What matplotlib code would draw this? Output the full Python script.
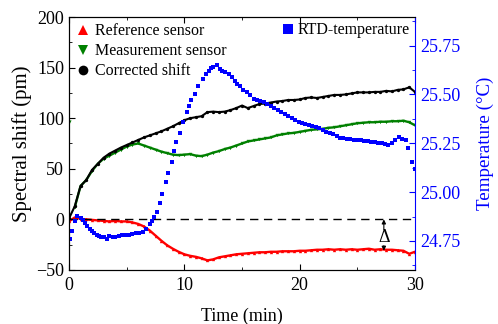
import numpy as np
import matplotlib.pyplot as plt
from matplotlib.ticker import MultipleLocator
from matplotlib.lines import Line2D

plt.rcParams['font.family'] = 'Liberation Serif'

# shared time axis (min) for the three sensor series
time_min = np.linspace(0, 30, 61)

reference_pm = [-2, 2, 0.5, 0, -0.5, -1, -1.5, -2, -1.5, -2,
                -2, -3, -4.5, -7, -11, -16, -21, -25.5, -29, -32,
                -34.5, -36, -37, -38.5, -40.5, -39.5, -37.5, -36.5, -35.5, -34.5,
                -34, -33.5, -33, -32.5, -32.5, -32, -32, -31.5, -31.5, -31.5,
                -31, -31, -30.5, -30, -30, -29.5, -30, -29.5, -30, -29.5,
                -30, -29.5, -29, -30, -29.5, -30, -30, -30.5, -31, -34,
                -32]

measurement_pm = [96, 12, 33, 39, 48, 55, 60, 63, 66, 69,
                  72, 74, 75, 73, 71, 69, 67, 65.5, 64, 63.5,
                  64, 64.5, 63, 62.5, 64, 66, 67.5, 69.5, 71, 73,
                  75, 77, 78, 79, 80, 81, 83, 84, 85, 85.5,
                  86.5, 87.5, 88.5, 89, 89.5, 90.5, 91, 92, 93, 94,
                  95, 95.5, 96, 96, 96.5, 96.5, 97, 97, 97.5, 96,
                  93]

corrected_pm = [1, 13, 33, 39, 49, 55, 61, 65, 68, 71,
                73.5, 76, 78.5, 81, 83, 85, 87, 89.5, 92, 95,
                98, 100, 101, 102, 106, 106.5, 106, 106.5, 108, 110,
                112.5, 110, 112, 114, 114.5, 115.5, 116.5, 117, 118, 118,
                118.5, 120, 120.5, 120, 121, 122, 123, 123, 123.5, 124.5,
                125.5, 125.5, 125.5, 126, 126, 127, 126.5, 128, 128.5, 130.5,
                126]

rtd_time = [0.1, 0.3, 0.5, 0.7, 1.0, 1.2, 1.4, 1.6, 1.8, 2.0,
            2.2, 2.4, 2.6, 2.8, 3.0, 3.3, 3.5, 3.8, 4.0, 4.3,
            4.6, 4.9, 5.2, 5.5, 5.8, 6.1, 6.4, 6.7, 7.0, 7.2,
            7.4, 7.6, 7.9, 8.1, 8.4, 8.6, 8.9, 9.1, 9.3, 9.6,
            9.9, 10.2, 10.4, 10.6, 10.9, 11.2, 11.6, 11.9, 12.1, 12.3,
            12.5, 12.8, 13.1, 13.3, 13.5, 13.9, 14.1, 14.4, 14.6, 14.8,
            15.1, 15.4, 15.7, 16.0, 16.3, 16.6, 16.9, 17.2, 17.5, 17.8,
            18.1, 18.4, 18.7, 19.0, 19.3, 19.6, 19.9, 20.2, 20.5, 20.8,
            21.1, 21.4, 21.7, 22.0, 22.3, 22.6, 22.9, 23.2, 23.5, 23.8,
            24.1, 24.4, 24.7, 25.0, 25.3, 25.6, 25.9, 26.2, 26.5, 26.8,
            27.1, 27.4, 27.7, 28.0, 28.3, 28.6, 28.9, 29.2, 29.4, 29.7,
            30.0]
rtd_temp = [24.758, 24.80, 24.85, 24.878, 24.87, 24.855, 24.84, 24.825, 24.81, 24.80,
            24.79, 24.78, 24.775, 24.772, 24.768, 24.758, 24.775, 24.768, 24.77, 24.778,
            24.78, 24.78, 24.782, 24.788, 24.79, 24.79, 24.795, 24.81, 24.835, 24.85,
            24.875, 24.90, 24.942, 24.99, 25.05, 25.10, 25.155, 25.21, 25.255, 25.305,
            25.36, 25.41, 25.44, 25.47, 25.50, 25.545, 25.58, 25.605, 25.62, 25.635,
            25.642, 25.648, 25.63, 25.62, 25.614, 25.605, 25.59, 25.57, 25.555, 25.545,
            25.525, 25.51, 25.495, 25.478, 25.47, 25.465, 25.46, 25.45, 25.44, 25.43,
            25.42, 25.41, 25.40, 25.39, 25.38, 25.37, 25.36, 25.355, 25.35, 25.345,
            25.34, 25.335, 25.33, 25.32, 25.31, 25.30, 25.295, 25.285, 25.278, 25.275,
            25.272, 25.27, 25.268, 25.265, 25.265, 25.262, 25.26, 25.258, 25.256, 25.252,
            25.25, 25.245, 25.24, 25.252, 25.265, 25.283, 25.27, 25.265, 25.228, 25.155,
            25.12]

fig = plt.figure(figsize=(4.98, 3.24), dpi=100)
ax = fig.add_axes([0.1386, 0.1667, 0.6947, 0.7808])
ax2 = ax.twinx()

ax.plot(time_min, reference_pm, color='red', lw=1.7, marker='^', ms=2.4, mew=0)
ax.plot(time_min[1:], measurement_pm[1:], color='green', lw=1.7, marker='v', ms=2.4, mew=0)
ax.plot(time_min[:1], measurement_pm[:1], color='green', ls='none', marker='v', ms=3, mew=0)
ax.plot(time_min, corrected_pm, color='black', lw=1.5, marker='o', ms=2.4, mew=0)
ax2.plot(rtd_time, rtd_temp, color='blue', ls='none', marker='s', ms=3.0, mew=0)

ax.axhline(0, color='black', lw=1, ls=(0, (6, 4)))

# delta marker between zero line and reference sensor
ax.text(27.3, -18, '\u0394', ha='center', va='center', fontsize=13)
arrow = dict(arrowstyle='-|>', color='black', lw=0.8, mutation_scale=6, shrinkA=0, shrinkB=0)
ax.annotate('', xy=(27.3, 0), xytext=(27.3, -10), arrowprops=arrow)
ax.annotate('', xy=(27.3, -31), xytext=(27.3, -26), arrowprops=arrow)

ax.set_xlim(0, 30)
ax.set_ylim(-50, 200)
ax2.set_ylim(24.6016, 25.896)

ax.xaxis.set_major_locator(MultipleLocator(10))
ax.xaxis.set_minor_locator(MultipleLocator(5))
ax.yaxis.set_major_locator(MultipleLocator(50))
ax.yaxis.set_minor_locator(MultipleLocator(25))
ax2.yaxis.set_major_locator(MultipleLocator(0.25))
ax2.yaxis.set_minor_locator(MultipleLocator(0.125))
ax2.yaxis.set_major_formatter(plt.FormatStrFormatter('%.2f'))

ax.tick_params(which='both', direction='in', top=True, right=False, labelsize=13)
ax.tick_params(which='major', length=4)
ax.tick_params(which='minor', length=2.5)
ax.tick_params(axis='x', pad=5)
ax2.tick_params(which='both', direction='in', colors='blue', labelsize=13)
ax2.tick_params(which='major', length=4)
ax2.tick_params(which='minor', length=2.5)
ax2.spines['right'].set_color('blue')
ax.spines['right'].set_visible(False)

ax.set_xlabel('Time (min)', fontsize=13, labelpad=10)
ax.set_ylabel('Spectral shift (pm)', fontsize=15, labelpad=3)
ax2.set_ylabel('Temperature (\u00b0C)', fontsize=13.7, color='blue', labelpad=12)

handles = [Line2D([], [], color='red', marker='^', ls='none', ms=7, mew=0),
           Line2D([], [], color='green', marker='v', ls='none', ms=7, mew=0),
           Line2D([], [], color='black', marker='o', ls='none', ms=7, mew=0)]
ax.legend(handles, ['Reference sensor', 'Measurement sensor', 'Corrected shift'],
          loc='upper left', frameon=False, fontsize=11.5, handlelength=0.8,
          handletextpad=0.35, labelspacing=0.25, borderaxespad=0.3,
          bbox_to_anchor=(-0.01, 1.02))
ax2.legend([Line2D([], [], color='blue', marker='s', ls='none', ms=7, mew=0)],
           ['RTD-temperature'], loc='upper right', frameon=False, fontsize=11.5,
           handlelength=0.8, handletextpad=0.2, borderaxespad=0.0,
           bbox_to_anchor=(1.003, 1.005))

fig.savefig('out.png', dpi=100)
